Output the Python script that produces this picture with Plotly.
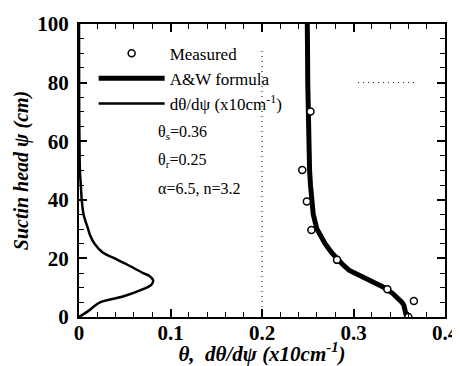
import plotly.graph_objects as go

# Measured points (theta, suction head)
meas_theta = [0.360, 0.366, 0.337, 0.282, 0.254, 0.249, 0.244, 0.253]
meas_psi = [0.0, 5.5, 9.5, 19.5, 29.7, 39.4, 50.2, 70.1]

# A&W formula curve (theta, suction head)
aw_psi = [0, 2, 4, 5, 6, 8, 10, 12, 14, 16, 18, 20, 22, 25, 28, 30, 35, 40, 45, 50, 60, 70, 80, 90, 100]
aw_theta = [0.358, 0.357, 0.355, 0.353, 0.350, 0.343, 0.334, 0.320, 0.306, 0.295, 0.288, 0.282, 0.276, 0.269, 0.263, 0.260, 0.256, 0.254, 0.253, 0.252, 0.251, 0.2505, 0.250, 0.2498, 0.2495]

# d(theta)/d(psi) curve (x10 cm^-1)
d_psi = [0, 2, 4, 5, 7, 9, 11, 12.5, 14, 15, 18, 20, 22, 25, 28, 30, 35, 40, 45, 50, 60, 70, 100]
d_val = [0.0, 0.010, 0.018, 0.023, 0.048, 0.066, 0.079, 0.081, 0.077, 0.070, 0.052, 0.039, 0.026, 0.017, 0.012, 0.010, 0.005, 0.003, 0.002, 0.001, 0.0005, 0.0002, 0.0]

x_ticks = [0, 0.1, 0.2, 0.3, 0.4]
x_ticklabels = ["0", "0.1", "0.2", "0.3", "0.4"]
y_ticks = [0, 20, 40, 60, 80, 100]
y_ticklabels = ["0", "20", "40", "60", "80", "100"]

serif = "Liberation Serif, Times New Roman, serif"

fig = go.Figure()
fig.add_trace(go.Scatter(x=aw_theta, y=aw_psi, mode="lines", name="A&W formula",
                         line=dict(color="black", width=5), legendrank=2))
fig.add_trace(go.Scatter(x=d_val, y=d_psi, mode="lines", name="dθ/dψ (x10cm<sup>-1</sup>)",
                         line=dict(color="black", width=2.5, shape="spline"), legendrank=3))
fig.add_trace(go.Scatter(x=meas_theta, y=meas_psi, mode="markers", name="Measured",
                         marker=dict(symbol="circle", size=7, color="white",
                                     line=dict(color="black", width=1.5)), legendrank=1))

# dotted background lines from the scan
fig.add_shape(type="line", x0=0.2, x1=0.2, y0=0, y1=92, xref="x", yref="y",
              line=dict(color="black", width=1, dash="1px,4px"))
fig.add_shape(type="line", x0=0.305, x1=0.368, y0=80, y1=80, xref="x", yref="y",
              line=dict(color="black", width=1, dash="1px,4px"))

for txt, yy in [("θ<sub>s</sub>=0.36", 63), ("θ<sub>r</sub>=0.25", 53.5), ("α=6.5, n=3.2", 44)]:
    fig.add_annotation(x=0.084, y=yy, xref="x", yref="y", text=txt, showarrow=False,
                       xanchor="left", yanchor="middle", font=dict(family=serif, size=16, color="black"))

axis_common = dict(
    showgrid=False, zeroline=False, showline=True, linecolor="black", linewidth=2,
    mirror="ticks", ticks="inside", ticklen=8, tickwidth=1.5, tickcolor="black",
    tickfont=dict(family=serif, size=21, color="black"), ticklabeloverflow="allow",
)

fig.update_xaxes(range=[0, 0.4], tickvals=x_ticks, ticktext=["<b>%s</b>" % t for t in x_ticklabels],
                 ticklabelstandoff=-4,
                 minor=dict(dtick=0.02, ticks="inside", ticklen=5, tickcolor="black", tickwidth=1),
                 title=dict(text="<b><i>θ,  dθ/dψ (x10cm<sup>-1</sup>)</i></b>",
                            font=dict(family=serif, size=21, color="black"), standoff=7),
                 **axis_common)
fig.update_yaxes(range=[0, 100], tickvals=y_ticks, ticktext=["<b>%s</b>" % t for t in y_ticklabels],
                 ticklabelstandoff=4,
                 minor=dict(dtick=5, ticks="inside", ticklen=5, tickcolor="black", tickwidth=1),
                 title=dict(text="<b><i>Suctin head ψ (cm)</i></b>",
                            font=dict(family=serif, size=20, color="black"), standoff=3),
                 **axis_common)

# page body has an 8px default margin, so the figure is sized to fit the 460x366 window
fig.update_layout(
    width=452, height=358,
    margin=dict(l=71, r=15, t=16, b=49, autoexpand=False),
    paper_bgcolor="white", plot_bgcolor="white",
    showlegend=True,
    legend=dict(x=0.04, y=0.96, xanchor="left", yanchor="top", bgcolor="rgba(0,0,0,0)",
                font=dict(family=serif, size=17, color="black"), itemwidth=66,
                tracegroupgap=0),
)

fig.write_html("out.html")
